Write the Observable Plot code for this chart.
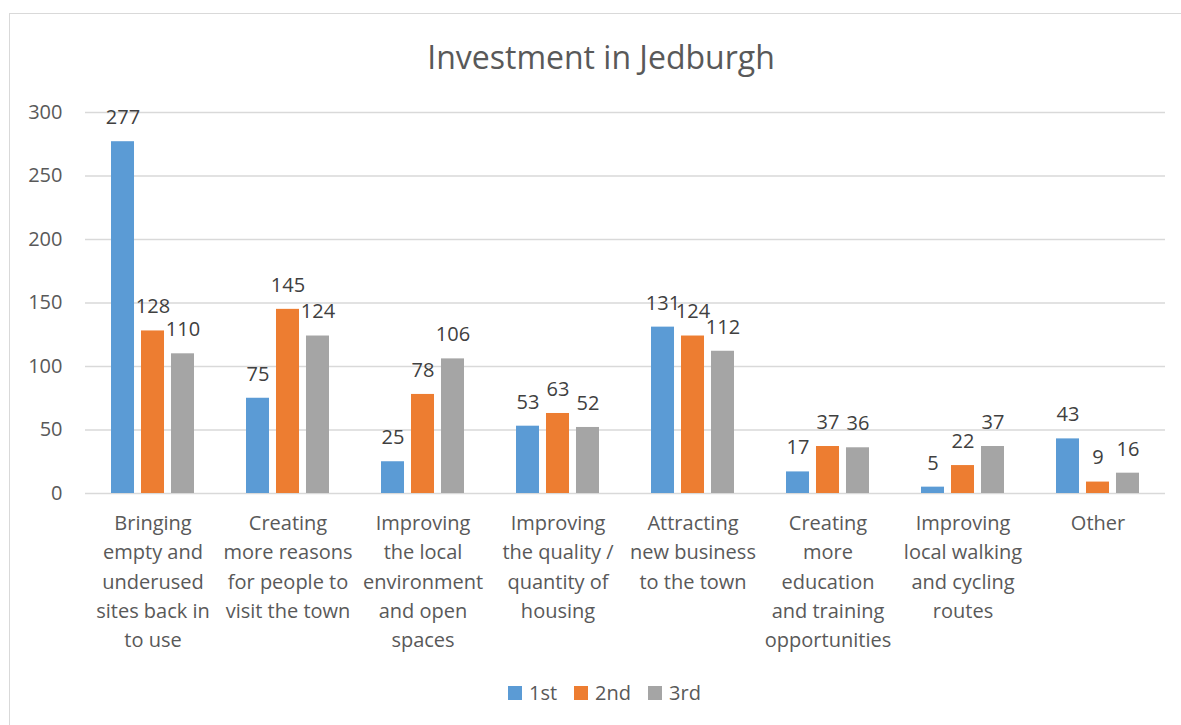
<!DOCTYPE html>
<html>
<head>
<meta charset="utf-8">
<script src="https://cdn.jsdelivr.net/npm/d3@7"></script>
<script src="https://cdn.jsdelivr.net/npm/@observablehq/plot@0.6"></script>
<style>
  html, body { margin: 0; padding: 0; background: #ffffff; }
  #wrap { position: relative; width: 1181px; height: 725px; overflow: hidden; font-family: 'Open Sans', sans-serif; }
  #border { position: absolute; left: 9px; top: 13px; width: 1300px; height: 800px; border-left: 1.5px solid #d9d9d9; border-top: 1.5px solid #d9d9d9; box-sizing: border-box; }
  #title { position: absolute; left: 0; top: 37px; width: 1202px; text-align: center; font-size: 32px; line-height: 40px; color: #595959; }
  #chart { position: absolute; left: 0; top: 0; }
  #legend { position: absolute; left: 508px; top: 676px; }
  .lg-swatches { display: flex; align-items: center; }
  .lg-swatch { margin-right: 17px !important; }
  .lg-swatch > svg { margin-right: 7px !important; }
</style>
</head>
<body>
<div id="wrap">
  <div id="border"></div>
  <div id="chart"></div>
  <div id="title"></div>
  <div id="legend"></div>
</div>
<script>
const titleText = "Investment in Jedburgh";
const categories = [
  "Bringing empty and underused sites back in to use",
  "Creating more reasons for people to visit the town",
  "Improving the local environment and open spaces",
  "Improving the quality / quantity of housing",
  "Attracting new business to the town",
  "Creating more education and training opportunities",
  "Improving local walking and cycling routes",
  "Other"
];
const tickLabels = [
  "Bringing\nempty and\nunderused\nsites back in\nto use",
  "Creating\nmore reasons\nfor people to\nvisit the town",
  "Improving\nthe local\nenvironment\nand open\nspaces",
  "Improving\nthe quality /\nquantity of\nhousing",
  "Attracting\nnew business\nto the town",
  "Creating\nmore\neducation\nand training\nopportunities",
  "Improving\nlocal walking\nand cycling\nroutes",
  "Other"
];
const series = ["1st", "2nd", "3rd"];
const first = [277, 75, 25, 53, 131, 17, 5, 43];
const second = [128, 145, 78, 63, 124, 37, 22, 9];
const third = [110, 124, 106, 52, 112, 36, 37, 16];
const colors = ["#5B9BD5", "#ED7D31", "#A5A5A5"];
const yTicks = [0, 50, 100, 150, 200, 250, 300];

const seriesValues = [first, second, third];
const data = [];
categories.forEach((c, i) => {
  series.forEach((s, j) => {
    data.push({category: c, series: s, value: seriesValues[j][i]});
  });
});

document.getElementById("title").textContent = titleText;

const chart = Plot.plot({
  width: 1181,
  height: 660,
  marginTop: 112,
  marginBottom: 167,
  marginLeft: 85,
  marginRight: 16,
  style: {fontFamily: "'Open Sans', sans-serif", fontSize: "20px", color: "#595959", background: "transparent", overflow: "visible"},
  fx: {domain: categories, padding: 0, round: false, label: null},
  x: {domain: series, paddingInner: 0.233, paddingOuter: 0.867, round: false, axis: null},
  y: {domain: [0, 300], nice: false, label: null},
  color: {domain: series, range: colors},
  marks: [
    Plot.gridY({ticks: yTicks, stroke: "#d9d9d9", strokeOpacity: 1, strokeWidth: 1.3}),
    Plot.axisY({ticks: yTicks, tickSize: 0, tickPadding: 23, fill: "#595959", label: null}),
    Plot.axisFx({anchor: "bottom", tickSize: 0, tickPadding: 16, lineHeight: 1.46, fill: "#595959", label: null,
      tickFormat: (d) => tickLabels[categories.indexOf(d)]}),
    Plot.barY(data, {fx: "category", x: "series", y: "value", fill: "series"}),
    Plot.text(data, {fx: "category", x: "series", y: "value", text: (d) => String(d.value), lineAnchor: "middle", dy: -24, fill: "#404040"})
  ]
});
document.getElementById("chart").appendChild(chart);

const legend = Plot.legend({
  color: {domain: series, range: colors},
  legend: "swatches",
  swatchSize: 14,
  className: "lg",
  style: {fontFamily: "'Open Sans', sans-serif", fontSize: "20px", color: "#595959", background: "transparent"}
});
document.getElementById("legend").appendChild(legend);
</script>
</body>
</html>
